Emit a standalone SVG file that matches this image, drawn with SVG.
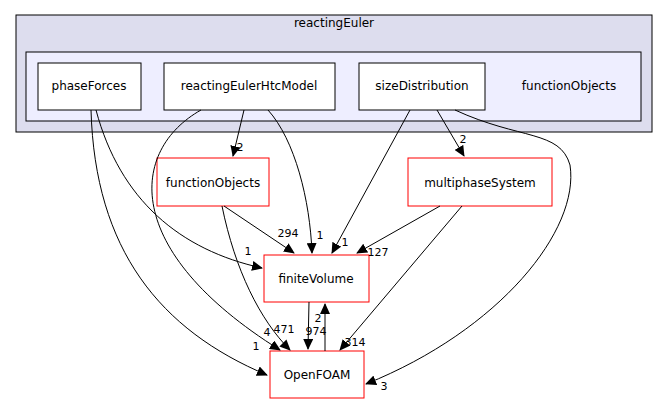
<svg xmlns="http://www.w3.org/2000/svg" width="669" height="404" viewBox="0 0 669 404">
<style>
text{font-family:"DejaVu Sans",sans-serif;font-size:12px;text-anchor:middle}
.n rect{fill:#fff;stroke:#000}
.r rect{fill:#fff;stroke:#ff0000}
.e path{fill:none;stroke:#000}
.e text{font-size:11px}
</style>
<defs><marker id="a" markerWidth="11" markerHeight="10" refX="10" refY="5" orient="auto" markerUnits="userSpaceOnUse"><path d="M0,0L11,5L0,10z"/></marker></defs>
<g id="cluster_reactingEuler"><rect x="16" y="15" width="636" height="117" fill="#ddddee" stroke="#000"/><text x="334" y="27">reactingEuler</text></g>
<g id="cluster_functionObjects"><rect x="26" y="52" width="615" height="69" fill="#eeeeff" stroke="#000"/><text x="569" y="90">functionObjects</text></g>
<g id="phaseForces" class="n"><rect x="38" y="63" width="103" height="47"/><text x="89" y="90">phaseForces</text></g>
<g id="reactingEulerHtcModel" class="n"><rect x="164" y="63" width="171" height="47"/><text x="249" y="90">reactingEulerHtcModel</text></g>
<g id="sizeDistribution" class="n"><rect x="359" y="63" width="126" height="47"/><text x="422" y="90">sizeDistribution</text></g>
<g id="functionObjects" class="r"><rect x="157" y="158" width="112" height="48"/><text x="213" y="187">functionObjects</text></g>
<g id="multiphaseSystem" class="r"><rect x="408" y="158" width="144" height="48"/><text x="480" y="187">multiphaseSystem</text></g>
<g id="finiteVolume" class="r"><rect x="264" y="255" width="105" height="47"/><text x="316" y="283">finiteVolume</text></g>
<g id="OpenFOAM" class="r"><rect x="270" y="351" width="94" height="47"/><text x="317" y="379">OpenFOAM</text></g>
<g id="edges" class="e">
<path d="M91,110C95,250 160,330 267,375" marker-end="url(#a)"/><text x="256" y="350">1</text>
<path d="M96,110C120,200 180,250 262,268" marker-end="url(#a)"/><text x="248" y="255">1</text>
<path d="M244,110L233,156" marker-end="url(#a)"/><text x="240" y="151">2</text>
<path d="M201,110C130,150 120,250 280,350" marker-end="url(#a)"/><text x="267" y="336">4</text>
<path d="M268,110C295,140 310,200 312,253" marker-end="url(#a)"/><text x="320" y="239">1</text>
<path d="M410,110L332,253" marker-end="url(#a)"/><text x="345" y="246">1</text>
<path d="M437,110L464,156" marker-end="url(#a)"/><text x="463" y="143">2</text>
<path d="M455,110C520,140 560,130 570,165C580,230 500,330 366,384" marker-end="url(#a)"/><text x="384" y="390">3</text>
<path d="M224,206L294,253" marker-end="url(#a)"/><text x="288" y="237">294</text>
<path d="M222,206C235,270 260,320 290,350" marker-end="url(#a)"/><text x="284" y="333">471</text>
<path d="M440,206L357,253" marker-end="url(#a)"/><text x="378" y="256">127</text>
<path d="M462,206L340,350" marker-end="url(#a)"/><text x="355" y="346">314</text>
<path d="M309,302L308,349" marker-end="url(#a)"/><text x="316" y="335">974</text>
<path d="M325,351L325,304" marker-end="url(#a)"/><text x="318" y="322">2</text>
</g>
</svg>
